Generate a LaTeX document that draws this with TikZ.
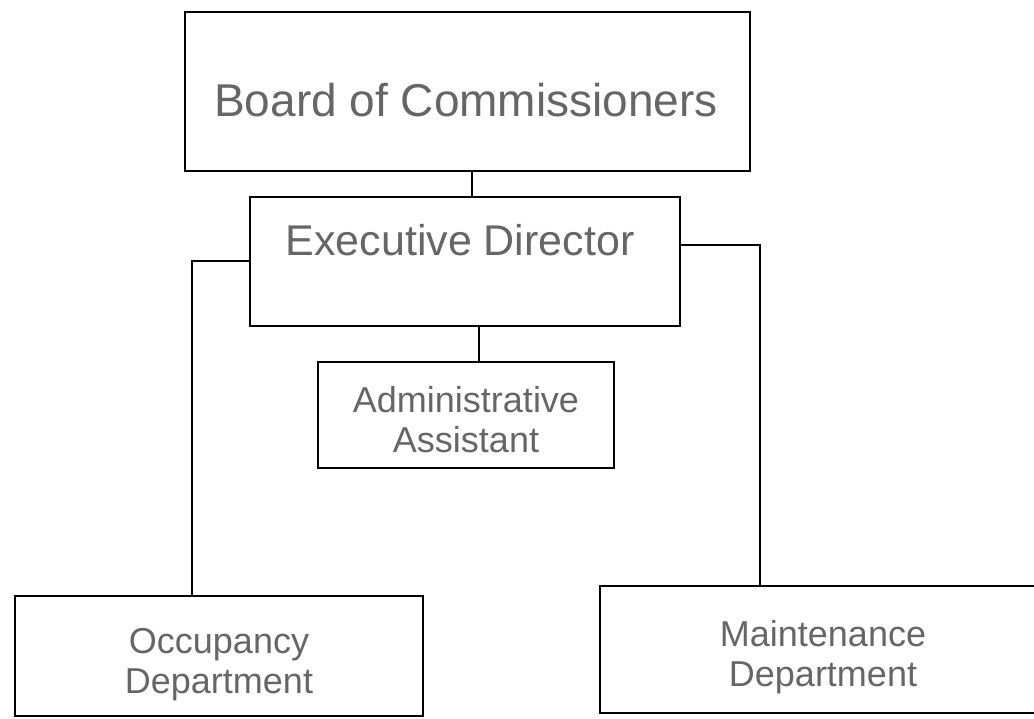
\documentclass[tikz,border=0pt]{standalone}
\usepackage{fontspec}
\setmainfont{Liberation Sans}
\begin{document}
\begin{tikzpicture}[x=1pt,y=-1pt,
  box/.style={draw=black, line width=2pt, rectangle, inner sep=0pt},
  lbl/.style={text=black!60, align=center, inner sep=0pt},
  conn/.style={draw=black, line width=2pt}]
\useasboundingbox (0,0) rectangle (1034,719);
\clip (0,0) rectangle (1034,719);
% boxes
\node[box, minimum width=565pt, minimum height=159pt] (board) at (467.5,91.5) {};
\node[box, minimum width=430pt, minimum height=129pt] (exec) at (465,261.5) {};
\node[box, minimum width=296pt, minimum height=106pt] (admin) at (466,415) {};
\node[box, minimum width=408pt, minimum height=120pt] (occ) at (219,656) {};
\node[box, minimum width=442pt, minimum height=127pt] (maint) at (821,649.5) {};
% texts
\node[lbl, font=\fontsize{46}{52}\selectfont] (tboard) at (466,100) {Board of Commissioners};
\node[lbl, font=\fontsize{43}{48}\selectfont] (texec) at (460,240) {Executive Director};
\node[lbl, font=\fontsize{36}{40}\selectfont] (tadmin) at (466,420) {Administrative\\Assistant};
\node[lbl, font=\fontsize{36}{40}\selectfont] (tocc) at (219,665) {Occupancy\\Department};
\node[lbl, font=\fontsize{36}{40}\selectfont] (tmaint) at (823,657) {Maintenance\\Department};
% connectors
\coordinate (c1) at (472,0);
\coordinate (c2) at (479,0);
\draw[conn] (board.south -| c1) -- (exec.north -| c1);
\draw[conn] (exec.south -| c2) -- (admin.north -| c2);
\draw[conn] (exec.west) -| ([xshift=-27pt]occ.north);
\draw[conn] ([yshift=16pt]exec.east) -| ([xshift=-61pt]maint.north);
\end{tikzpicture}
\end{document}
